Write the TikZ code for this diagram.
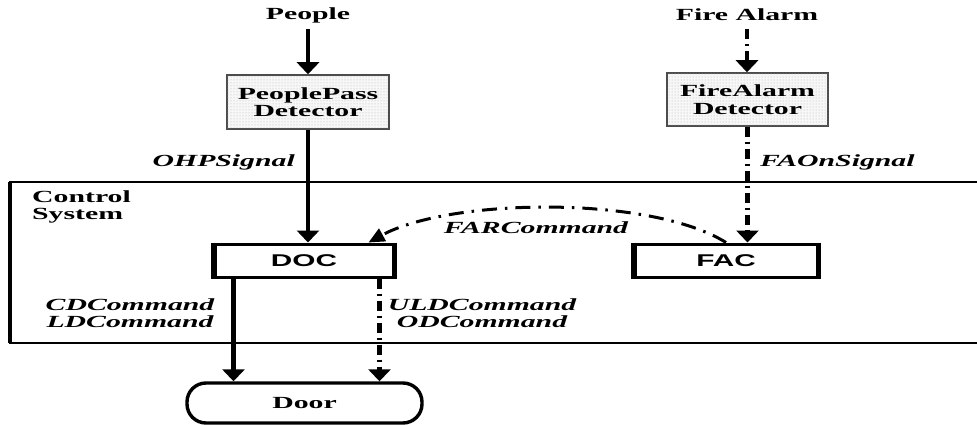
\documentclass[tikz,border=0pt]{standalone}
\usepackage{fontspec}
\setmainfont{Liberation Serif}[FakeStretch=1.75]
\newfontfamily\boxfont{Liberation Sans}[FakeStretch=1.75]
\usetikzlibrary{arrows.meta,patterns}

\begin{document}
\begin{tikzpicture}[x=1pt,y=-1pt,
  every node/.style={font=\fontsize{17}{17.5}\selectfont\bfseries},
  lbl/.style={inner sep=0pt},
  sig/.style={inner sep=0pt,font=\fontsize{17}{17.5}\selectfont\bfseries\itshape},
  detector/.style={draw=gray!60!black,line width=1.5pt,fill=gray!6,
    postaction={pattern=dots,pattern color=gray!60},
    minimum width=162pt,minimum height=54pt,align=center,inner sep=0pt},
  unit/.style={draw,line width=3pt,minimum height=33pt,inner sep=0pt,
    font=\fontsize{17}{17.5}\selectfont\boxfont\bfseries},
  sides/.style={line width=5pt},
  flow/.style={line width=4.5pt,-{Triangle[width=22pt,length=12pt]}},
  dashflow/.style={flow,dash pattern=on 10pt off 5pt on 2pt off 5pt},
  longdash/.style={line width=3pt,-{Triangle[width=14pt,length=16pt]},
    dash pattern=on 15pt off 8pt on 2.5pt off 8pt},
]
\useasboundingbox (0,0) rectangle (977,425);

% control system frame (open towards the right)
\draw[line width=2.6pt] (977,182) -| (10,343) -- (977,343);
\draw[line width=4pt] (10,182) -- (10,343);
\node[lbl,anchor=west,align=left] (cs) at (32,207) {Control\\System};

% external sources and detectors
\node[lbl] (people) at (308,15) {People};
\node[detector] (ppd) at (308,102) {PeoplePass\\Detector};
\node[lbl] (fire) at (747,15) {Fire Alarm};
\node[detector,minimum width=161pt,minimum height=53pt] (fad) at (747.5,99.5) {FireAlarm\\Detector};

% controllers
\node[unit,minimum width=178pt] (doc) at (304,260.5) {DOC};
\node[unit,minimum width=182pt] (fac) at (726,260.5) {FAC};
\foreach \u in {doc,fac}{
  \draw[sides] (\u.north west) -- (\u.south west);
  \draw[sides] (\u.north east) -- (\u.south east);
}

% actuated device
\node[draw,line width=3.4pt,rounded corners=19pt,minimum width=235pt,
      minimum height=40pt,inner sep=0pt] (door) at (304.5,403) {Door};

% signal flows
\draw[flow] ([yshift=-6pt]people.south) -- (ppd.north);
\draw[flow] (ppd.south) -- (ppd.south |- doc.north);
\draw[dashflow] ([yshift=-8pt]fire.south) -- (fire.south |- fad.north);
\draw[dashflow] (fad.south) -- (fad.south |- fac.north);
\draw[longdash] (fac.north) .. controls (650,195) and (450,198) .. ([xshift=-26pt]doc.north east);
\draw[flow] ([xshift=20pt]doc.south west) -- ([xshift=20pt]doc.south west |- door.north);
\draw[dashflow] ([xshift=-15pt]doc.south east) -- ([xshift=-15pt]doc.south east |- door.north);

% signal labels
\node[sig,anchor=east] (ohp) at (295,162) {OHPSignal};
\node[sig,anchor=west] (faon) at (760,162) {FAOnSignal};
\node[sig] (far) at (536,228) {FARCommand};
\node[sig,align=center] (cdld) at (130,313) {CDCommand\\LDCommand};
\node[sig,align=center] (uldod) at (482,313) {ULDCommand\\ODCommand};
\end{tikzpicture}
\end{document}
